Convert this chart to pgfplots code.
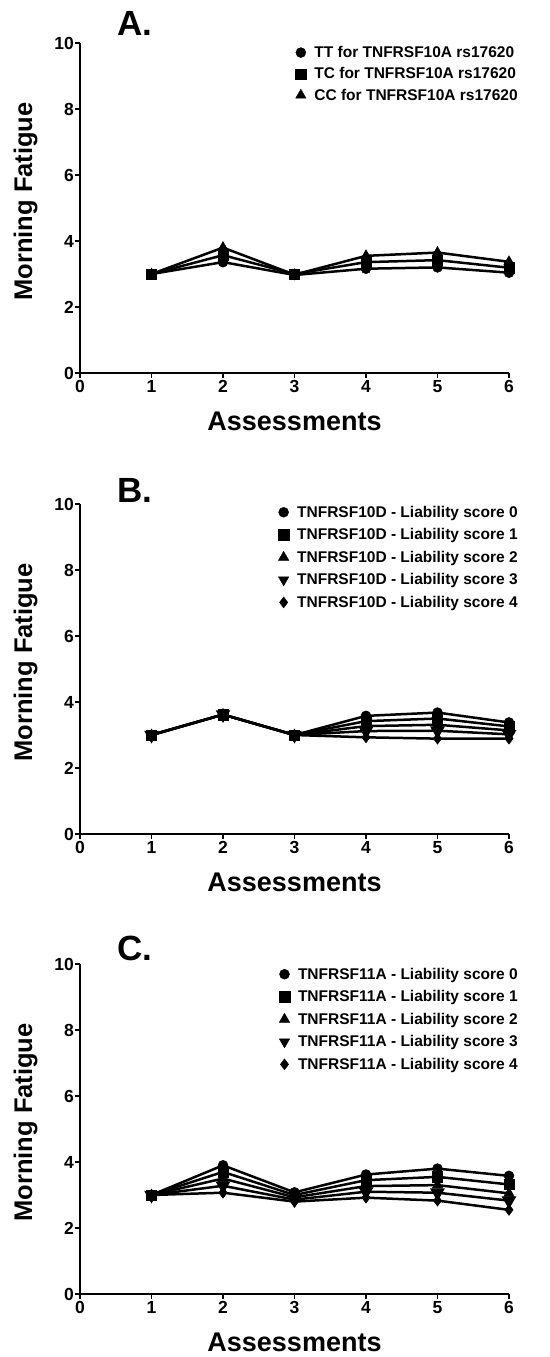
\documentclass[border=0pt]{standalone}
\usepackage{fontspec}
\setmainfont{Liberation Sans}
\usepackage{pgfplots}
\pgfplotsset{compat=1.18}

\pgfplotsset{
  panel/.style={
    scale only axis, width=429pt, height=330pt,
    xmin=0, xmax=6, ymin=0, ymax=10,
    axis lines=left, axis line style={-, line width=2pt, black},
    xtick={0,...,6}, ytick={0,2,...,10},
    tick align=outside, major tick length=5pt,
    tick style={line width=1.6pt, black},
    /pgf/number format/assume math mode=true,
    ticklabel style={font=\bfseries\fontsize{17.5}{17.5}\selectfont},
    xticklabel style={inner sep=2pt},
    yticklabel style={inner sep=1pt},
    clip=false,
    xlabel={Assessments}, ylabel={Morning Fatigue},
    every axis x label/.style={at={(axis description cs:0.5,-0.118)}, anchor=north,
      inner sep=0pt, font=\bfseries\fontsize{27}{27}\selectfont},
    every axis y label/.style={at={(axis description cs:-0.127,0.52)}, anchor=center,
      rotate=90, inner sep=0pt, font=\bfseries\fontsize{25.5}{25.5}\selectfont},
    legend cell align=left,
    legend style={draw=none, fill=none, at={(1.03,1.0)}, anchor=north east,
      font=\bfseries\fontsize{15.5}{15.5}\selectfont, row sep=6.6pt,
      nodes={inner sep=1pt}},
  },
  ln/.style={black, line width=2.5pt, mark options={solid, line width=0.5pt, fill=black}},
  leg/.style={black, only marks, mark options={fill=black},
    legend image code/.code={\path[draw=none, fill=none] (0cm,-0.1cm) rectangle (0.64cm,0.1cm);
      \draw[mark repeat=2, mark phase=2, ##1]
      plot coordinates {(0cm,0cm) (0.2cm,0cm) (0.64cm,0cm)};}},
  ser0/.style={mark=*, mark size=5pt},
  ser1/.style={mark=square*, mark size=5.2pt},
  ser2/.style={mark=triangle*, mark size=6pt},
  ser3/.style={mark=triangle*, mark size=6pt, mark options={rotate=180}},
  ser4/.style={mark=diamond*, mark size=5.5pt},
}

\begin{document}
\begin{tikzpicture}
\useasboundingbox (0,0) rectangle (549pt,-1357pt);

% ---------- A ----------
\begin{axis}[panel, at={(80pt,-373pt)}, anchor=south west]
\addplot[ln, ser0, forget plot] coordinates {(1,3.0) (2,3.36) (3,2.97) (4,3.16) (5,3.20) (6,3.04)};
\addplot[ln, ser2, forget plot] coordinates {(1,3.0) (2,3.80) (3,2.98) (4,3.55) (5,3.65) (6,3.37)};
\addplot[ln, ser1, forget plot] coordinates {(1,3.0) (2,3.57) (3,3.00) (4,3.36) (5,3.42) (6,3.19)};
\addlegendimage{leg, ser0}\addlegendentry{TT for TNFRSF10A rs17620}
\addlegendimage{leg, ser1}\addlegendentry{TC for TNFRSF10A rs17620}
\addlegendimage{leg, ser2}\addlegendentry{CC for TNFRSF10A rs17620}
\node[anchor=base west, inner sep=0pt, font=\bfseries\fontsize{35}{35}\selectfont]
  at (rel axis cs:0.086,1.024) {A.};
\end{axis}

% ---------- B ----------
\begin{axis}[panel, at={(80pt,-834pt)}, anchor=south west,
  legend style={at={(1.03,1.004)}, row sep=7.8pt}]
\addplot[ln, ser0, forget plot] coordinates {(1,3.0) (2,3.62) (3,3.0) (4,3.58) (5,3.68) (6,3.38)};
\addplot[ln, ser2, forget plot] coordinates {(1,3.0) (2,3.62) (3,3.0) (4,3.27) (5,3.31) (6,3.14)};
\addplot[ln, ser3, forget plot] coordinates {(1,3.0) (2,3.62) (3,3.0) (4,3.12) (5,3.13) (6,3.02)};
\addplot[ln, ser4, forget plot] coordinates {(1,3.0) (2,3.62) (3,3.0) (4,2.93) (5,2.89) (6,2.89)};
\addplot[ln, ser1, forget plot] coordinates {(1,3.0) (2,3.62) (3,3.0) (4,3.42) (5,3.50) (6,3.26)};
\addlegendimage{leg, ser0}\addlegendentry{TNFRSF10D - Liability score 0}
\addlegendimage{leg, ser1}\addlegendentry{TNFRSF10D - Liability score 1}
\addlegendimage{leg, ser2}\addlegendentry{TNFRSF10D - Liability score 2}
\addlegendimage{leg, ser3}\addlegendentry{TNFRSF10D - Liability score 3}
\addlegendimage{leg, ser4}\addlegendentry{TNFRSF10D - Liability score 4}
\node[anchor=base west, inner sep=0pt, font=\bfseries\fontsize{35}{35}\selectfont]
  at (rel axis cs:0.086,1.006) {B.};
\end{axis}

% ---------- C ----------
\begin{axis}[panel, at={(80pt,-1294pt)}, anchor=south west,
  legend style={at={(1.03,0.998)}, row sep=7.8pt}]
\addplot[ln, ser0, forget plot] coordinates {(1,3.0) (2,3.90) (3,3.08) (4,3.62) (5,3.80) (6,3.58)};
\addplot[ln, ser2, forget plot] coordinates {(1,3.0) (2,3.50) (3,2.93) (4,3.27) (5,3.30) (6,3.05)};
\addplot[ln, ser3, forget plot] coordinates {(1,3.0) (2,3.28) (3,2.86) (4,3.10) (5,3.07) (6,2.83)};
\addplot[ln, ser4, forget plot] coordinates {(1,3.0) (2,3.07) (3,2.80) (4,2.92) (5,2.83) (6,2.55)};
\addplot[ln, ser1, forget plot] coordinates {(1,3.0) (2,3.70) (3,3.00) (4,3.45) (5,3.55) (6,3.32)};
\addlegendimage{leg, ser0}\addlegendentry{TNFRSF11A - Liability score 0}
\addlegendimage{leg, ser1}\addlegendentry{TNFRSF11A - Liability score 1}
\addlegendimage{leg, ser2}\addlegendentry{TNFRSF11A - Liability score 2}
\addlegendimage{leg, ser3}\addlegendentry{TNFRSF11A - Liability score 3}
\addlegendimage{leg, ser4}\addlegendentry{TNFRSF11A - Liability score 4}
\node[anchor=base west, inner sep=0pt, font=\bfseries\fontsize{35}{35}\selectfont]
  at (rel axis cs:0.086,1.012) {C.};
\end{axis}
\end{tikzpicture}
\end{document}
